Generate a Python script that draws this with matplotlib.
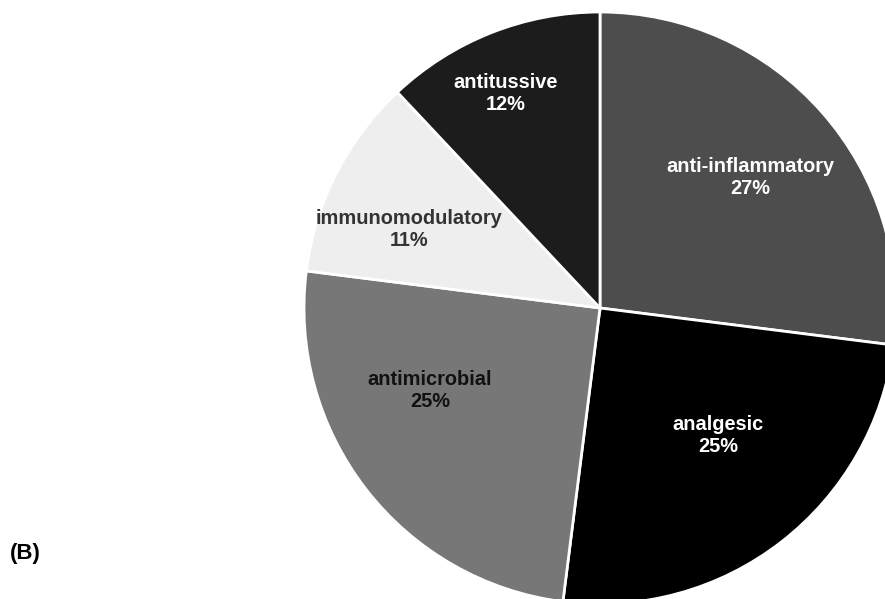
import matplotlib
matplotlib.use("Agg")
import matplotlib.pyplot as plt

categories = ["anti-inflammatory", "analgesic", "antimicrobial",
              "immunomodulatory", "antitussive"]
shares = [27, 25, 25, 11, 12]
colors = ["#4d4d4d", "#000000", "#777777", "#eeeeee", "#1c1c1c"]
text_colors = ["white", "white", "#111111", "#333333", "white"]
# label anchors (fraction of radius, relative to pie centre)
label_x = [0.507, 0.40, -0.575, -0.645, -0.32]
label_y = [0.44, -0.43, -0.28, 0.264, 0.725]

W, H = 885, 599
cx, cy, R = 600, 308, 296

fig = plt.figure(figsize=(W / 100, H / 100), dpi=100)
ax = fig.add_axes([0, 0, 1, 1])
ax.pie(shares, colors=colors, startangle=90, counterclock=False,
       wedgeprops=dict(edgecolor="white", linewidth=2))
for c, v, x, y, tc in zip(categories, shares, label_x, label_y, text_colors):
    ax.text(x, y, f"{c}\n{v}%", color=tc, fontfamily="Liberation Sans",
            fontweight="bold", fontsize=14.4, ha="center", va="center",
            multialignment="center", linespacing=1.2)
ax.set_aspect("auto")
ax.set_xlim(-cx / R, (W - cx) / R)
ax.set_ylim(-(H - cy) / R, cy / R)
ax.axis("off")

fig.text(10 / W, 1 - 553 / H, "(B)", fontfamily="Liberation Sans",
         fontweight="bold", fontsize=16, ha="left", va="center")

fig.savefig("out.png", dpi=100)
